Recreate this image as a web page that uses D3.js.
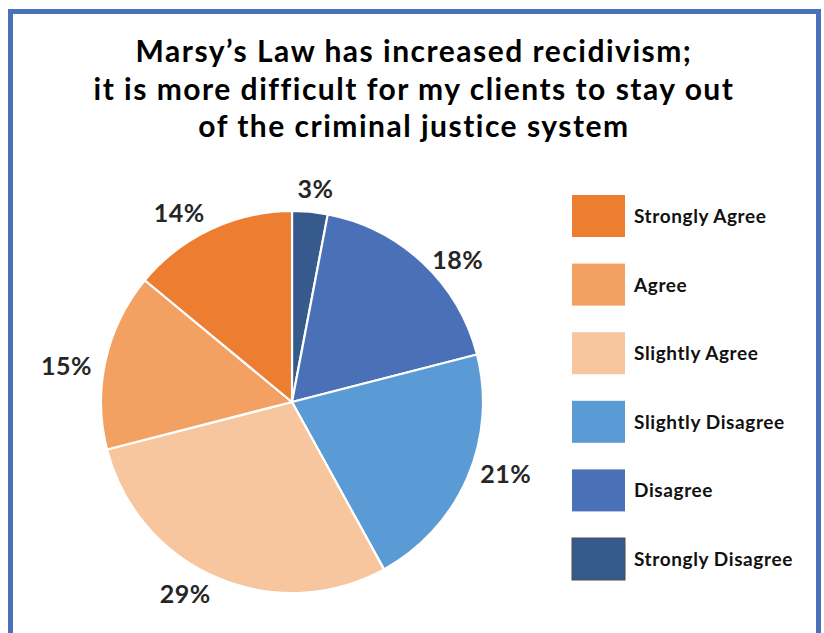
<!DOCTYPE html>
<html>
<head>
<meta charset="utf-8">
<script src="https://cdn.jsdelivr.net/npm/d3@7"></script>
<style>
  html, body { margin: 0; padding: 0; background: #fff; }
  svg { display: block; }
  text { font-family: "Lato", "Noto Sans", sans-serif; }
</style>
</head>
<body>
<svg id="chart" width="824" height="633"></svg>
<script>
// Survey responses, drawn clockwise from 12 o'clock
const categories = ["Strongly Disagree", "Disagree", "Slightly Disagree", "Slightly Agree", "Agree", "Strongly Agree"];
const shares = [3, 18, 21, 29, 15, 14];
// Legend reads from agree to disagree
const legendOrder = ["Strongly Agree", "Agree", "Slightly Agree", "Slightly Disagree", "Disagree", "Strongly Disagree"];
const titleLines = [
  "Marsy\u2019s Law has increased recidivism;",
  "it is more difficult for my clients to stay out",
  "of the criminal justice system"
];

const palette = {
  "Strongly Agree": "#ED7D31",
  "Agree": "#F2A163",
  "Slightly Agree": "#F8C69E",
  "Slightly Disagree": "#5B9BD5",
  "Disagree": "#4A70B7",
  "Strongly Disagree": "#375A8C"
};

const svg = d3.select("#chart");
const W = 824, H = 633;

svg.append("rect").attr("width", W).attr("height", H).attr("fill", "#fff");

// Frame
svg.append("rect")
  .attr("x", 10.5).attr("y", 11.5)
  .attr("width", 808).attr("height", 700)
  .attr("fill", "none")
  .attr("stroke", "#4A72B8")
  .attr("stroke-width", 5);

// Title
const title = svg.append("text")
  .attr("x", 414)
  .attr("text-anchor", "middle")
  .attr("font-size", 30)
  .attr("font-weight", 700)
  .attr("letter-spacing", 1.5)
  .attr("fill", "#000");
titleLines.forEach((line, i) => {
  title.append("tspan").attr("x", 414).attr("y", 62 + i * 37.5).text(line);
});

// Pie
const cx = 292, cy = 402, r = 191;
const pie = d3.pie().sort(null).value(d => d.value).startAngle(0).endAngle(2 * Math.PI);
const data = categories.map((c, i) => ({ category: c, value: shares[i] }));
const arcs = pie(data);
const arc = d3.arc().innerRadius(0).outerRadius(r);

const g = svg.append("g").attr("transform", `translate(${cx},${cy})`);
g.selectAll("path.slice")
  .data(arcs)
  .join("path")
  .attr("class", "slice")
  .attr("d", arc)
  .attr("fill", d => palette[d.data.category])
  .attr("stroke", "#fff")
  .attr("stroke-width", 2.2)
  .attr("stroke-linejoin", "round");

// Outside-end percentage labels: the label box edge nearest the pie
// sits on a ring just outside the slice's mid-angle
const labelSize = 25;
const gap = 14;
const clamp = v => Math.max(-1, Math.min(1, v));
const labels = g.selectAll("text.pct")
  .data(arcs)
  .join("text")
  .attr("class", "pct")
  .attr("text-anchor", "middle")
  .attr("font-size", labelSize)
  .attr("font-weight", 700)
  .attr("letter-spacing", 0.5)
  .attr("fill", "#262626")
  .text(d => d.data.value + "%");

labels.each(function(d) {
  const w = this.getComputedTextLength();
  const h = labelSize * 0.72;
  const a = (d.startAngle + d.endAngle) / 2;
  const s = Math.sin(a), c = Math.cos(a);
  const ax = (r + gap) * s, ay = -(r + gap) * c;
  const kx = clamp(s * 2.5);
  const ky = clamp((Math.abs(c) - 0.85) * 6.67) * Math.sign(c);
  const x = ax + (w / 2) * kx;
  const yMid = ay - (h / 2) * Math.max(0, ky) + (h / 2) * Math.max(0, -ky);
  d3.select(this).attr("x", x).attr("y", yMid + h / 2);
});

// Legend
const legendY = d3.scalePoint().domain(legendOrder).range([195, 538]);
const legend = svg.append("g");
const items = legend.selectAll("g.item")
  .data(legendOrder)
  .join("g")
  .attr("class", "item")
  .attr("transform", d => `translate(572,${legendY(d)})`);
items.append("rect")
  .attr("width", 53).attr("height", 42)
  .attr("fill", d => palette[d])
  .attr("stroke", d => d === "Strongly Disagree" ? "#4d4d4d" : "none")
  .attr("stroke-width", 1);
items.append("text")
  .attr("x", 62).attr("y", 28)
  .attr("font-size", 19)
  .attr("font-weight", 700)
  .attr("letter-spacing", 0.6)
  .attr("fill", "#111")
  .text(d => d);
</script>
</body>
</html>
